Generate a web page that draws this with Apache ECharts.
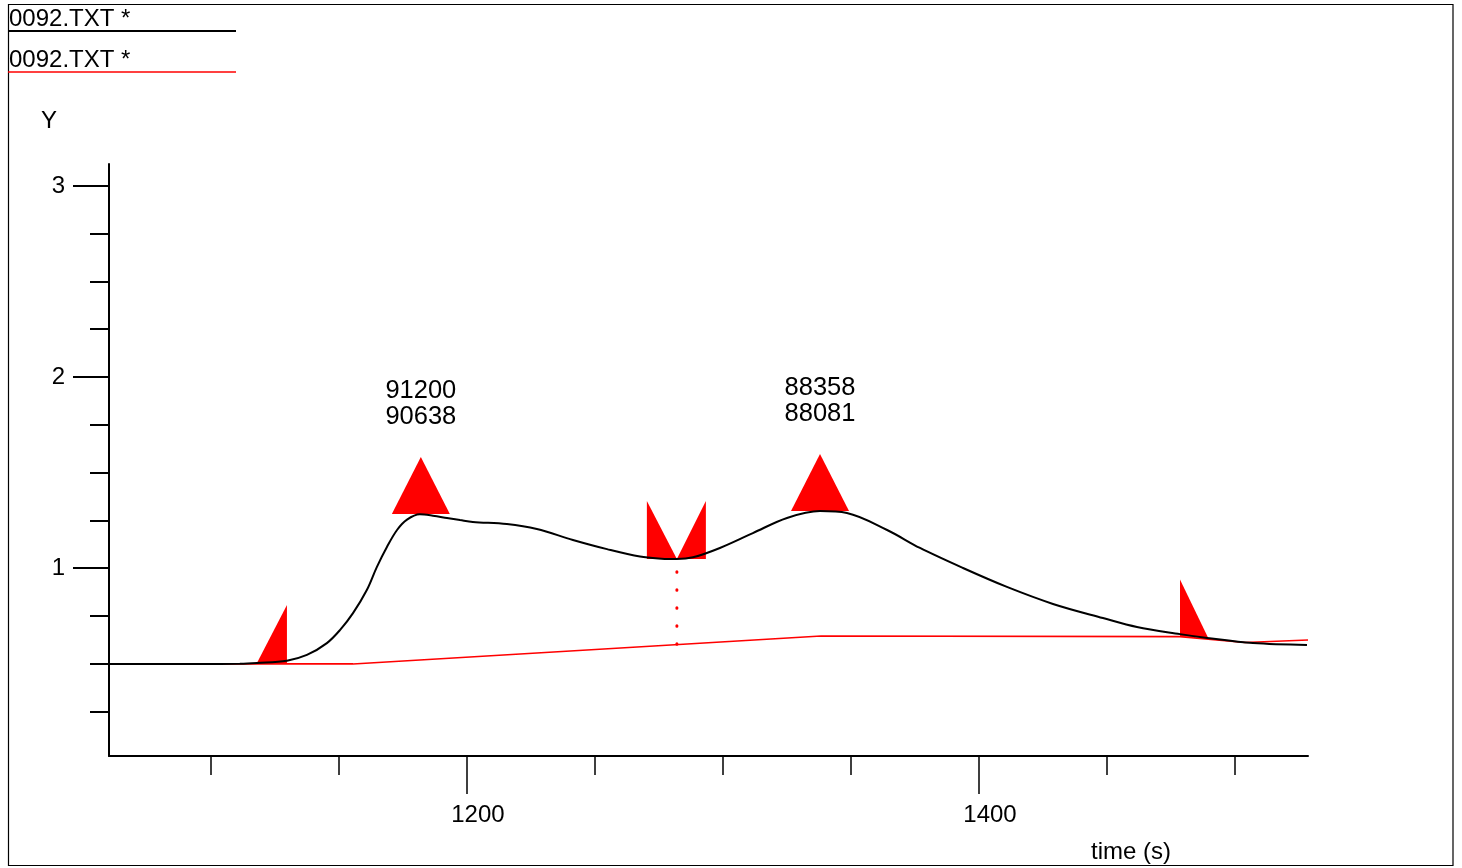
<!DOCTYPE html>
<html>
<head>
<meta charset="utf-8">
<title>0092.TXT</title>
<script src="https://cdn.jsdelivr.net/npm/echarts@6/dist/echarts.min.js"></script>
<style>
  html, body { margin: 0; padding: 0; background: #fff; }
  #chart { width: 1462px; height: 868px; }
</style>
</head>
<body>
<div id="chart"></div>
<script>
// Detector trace (time in s, signal)
const timeS = [1060.2, 1095.7, 1111.3, 1118.0, 1129.7, 1137.5, 1145.3, 1150.4, 1155.5, 1160.9,
  1164.8, 1168.75, 1172.7, 1176.6, 1181.6, 1186.7, 1192.2, 1197.3, 1202.3, 1215.6,
  1227.3, 1241.4, 1254.7, 1267.6, 1276.0, 1282.0, 1288.3, 1298.8, 1311.7, 1325.0,
  1337.9, 1348.4, 1364.1, 1376.95, 1393.75, 1410.9, 1428.9, 1448.4, 1461.7, 1478.5,
  1489.1, 1507.0, 1528.1];
const signal = [0.498, 0.498, 0.499, 0.503, 0.515, 0.545, 0.607, 0.675, 0.764, 0.885,
  1.005, 1.110, 1.199, 1.253, 1.281, 1.274, 1.262, 1.251, 1.241, 1.230,
  1.204, 1.147, 1.099, 1.060, 1.049, 1.047, 1.056, 1.105, 1.183, 1.262,
  1.298, 1.288, 1.199, 1.105, 1.000, 0.901, 0.812, 0.738, 0.691, 0.654,
  0.634, 0.607, 0.597];

// Integration baseline
const baseTime = [1060.2, 1155.5, 1338.3, 1478.5, 1489.5, 1503.9, 1528.5];
const baseLevel = [0.498, 0.498, 0.644, 0.641, 0.628, 0.610, 0.623];

// Peak table
const peakTime = [1182.0, 1337.9];
const peakTop = [1.283, 1.298];
const peakAreas = [['91200', '90638'], ['88358', '88081']];
const peakStart = [1129.7, 0.503];
const valley = [1282.0, 1.047];
const peakEnd = [1478.5, 0.641];

// Axis ticks
const xMinorTicks = [1100, 1150, 1200, 1250, 1300, 1350, 1400, 1450, 1500];
const xMajorTicks = [1200, 1400];
const yMinorTicks = [0.25, 0.5, 0.75, 1, 1.25, 1.5, 1.75, 2, 2.25, 2.5, 2.75, 3];
const yMajorTicks = [1, 2, 3];

const X_MIN = 1060.2, X_MAX = 1528.5, Y_MIN = 0.016, Y_MAX = 3.115;
const FONT = '"Liberation Sans", Arial, sans-serif';

function baselineAt(t) {
  for (let i = 0; i < baseTime.length - 1; i++) {
    if (t >= baseTime[i] && t <= baseTime[i + 1]) {
      const f = (t - baseTime[i]) / (baseTime[i + 1] - baseTime[i]);
      return baseLevel[i] + f * (baseLevel[i + 1] - baseLevel[i]);
    }
  }
  return baseLevel[baseLevel.length - 1];
}

// Marker shapes (pixel offsets from the anchor point)
const markerShapes = [
  [[-29, 0], [29, 0], [0, -57]],     // peak apex
  [[0, -58], [0, 0], [-30, 0]],      // peak start
  [[-30, -58], [-30, 0], [0, 0]],    // valley, end of first peak
  [[29, -58], [29, 0], [0, 0]],      // valley, start of second peak
  [[0, -57], [0, 0], [28, 1]]        // peak end
];

const markerData = [
  [peakTime[0], peakTop[0], 0],
  [peakTime[1], peakTop[1], 0],
  [peakStart[0], peakStart[1], 1],
  [valley[0], valley[1], 2],
  [valley[0], valley[1], 3],
  [peakEnd[0], peakEnd[1], 4]
];

const labelData = peakTime.map((t, i) => [t, peakTop[i], i]);

const chart = echarts.init(document.getElementById('chart'), null, { renderer: 'canvas' });

const axisCommon = { type: 'value', min: X_MIN, max: X_MAX, splitLine: { show: false } };
const yCommon = { type: 'value', min: Y_MIN, max: Y_MAX, splitLine: { show: false } };

chart.setOption({
  animation: false,
  backgroundColor: '#ffffff',
  grid: { left: 109, right: 154, top: 164, bottom: 112, containLabel: false },
  xAxis: [
    Object.assign({}, axisCommon, {
      position: 'bottom',
      axisLine: { show: true, onZero: false, lineStyle: { color: '#000', width: 2 } },
      axisTick: { show: true, customValues: xMinorTicks, length: 19, lineStyle: { color: '#000', width: 1.5 } },
      axisLabel: { show: false }
    }),
    Object.assign({}, axisCommon, {
      position: 'bottom',
      axisLine: { show: false, onZero: false },
      axisTick: { show: true, customValues: xMajorTicks, length: 38, lineStyle: { color: '#000', width: 1.5 } },
      axisLabel: {
        show: true, customValues: xMajorTicks, margin: 47,
        color: '#000', fontSize: 24, fontFamily: FONT,
        padding: [0, 0, 0, 22],
        formatter: v => String(v)
      }
    })
  ],
  yAxis: [
    Object.assign({}, yCommon, {
      position: 'left',
      axisLine: { show: true, onZero: false, lineStyle: { color: '#000', width: 2 } },
      axisTick: { show: true, customValues: yMinorTicks, length: 19, lineStyle: { color: '#000', width: 2 } },
      axisLabel: { show: false }
    }),
    Object.assign({}, yCommon, {
      position: 'left',
      axisLine: { show: false, onZero: false },
      axisTick: { show: true, customValues: yMajorTicks, length: 36, lineStyle: { color: '#000', width: 2 } },
      axisLabel: {
        show: true, customValues: yMajorTicks, margin: 44,
        color: '#000', fontSize: 24, fontFamily: FONT,
        formatter: v => String(v)
      }
    })
  ],
  graphic: [
    { type: 'rect', silent: true, shape: { x: 8.5, y: 4.5, width: 1444.5, height: 861 },
      style: { fill: 'none', stroke: '#000', lineWidth: 1.2 } },
    { type: 'text', left: 9, top: 7, silent: true,
      style: { text: '0092.TXT *', fill: '#000', font: '24px ' + FONT } },
    { type: 'line', silent: true, shape: { x1: 8, y1: 31, x2: 236, y2: 31 },
      style: { stroke: '#000', lineWidth: 2 } },
    { type: 'text', left: 9, top: 48, silent: true,
      style: { text: '0092.TXT *', fill: '#000', font: '24px ' + FONT } },
    { type: 'line', silent: true, shape: { x1: 8, y1: 72, x2: 236, y2: 72 },
      style: { stroke: '#ff0000', lineWidth: 1.5 } },
    { type: 'text', x: 49, y: 121, silent: true,
      style: { text: 'Y', fill: '#000', font: '24px ' + FONT, textAlign: 'center', textVerticalAlign: 'middle' } },
    { type: 'text', x: 1131, y: 852, silent: true,
      style: { text: 'time (s)', fill: '#000', font: '24px ' + FONT, textAlign: 'center', textVerticalAlign: 'middle' } }
  ],
  series: [
    {
      name: 'peak markers',
      type: 'custom',
      xAxisIndex: 0, yAxisIndex: 0,
      z: 2,
      data: markerData,
      renderItem: function (params, api) {
        const p = api.coord([api.value(0), api.value(1)]);
        const shape = markerShapes[api.value(2)];
        return {
          type: 'polygon',
          shape: { points: shape.map(o => [p[0] + o[0], p[1] + o[1]]) },
          style: { fill: '#ff0000', stroke: 'none' }
        };
      }
    },
    {
      name: 'peak areas',
      type: 'custom',
      xAxisIndex: 0, yAxisIndex: 0,
      z: 5,
      data: labelData,
      renderItem: function (params, api) {
        const p = api.coord([api.value(0), api.value(1)]);
        const lines = peakAreas[api.value(2)];
        return {
          type: 'text',
          style: {
            x: p[0], y: p[1] - 84,
            text: lines.join('\n'),
            fill: '#000', font: '25.5px ' + FONT, lineHeight: 26,
            textAlign: 'center', textVerticalAlign: 'bottom'
          }
        };
      }
    },
    {
      name: 'baseline',
      type: 'line',
      xAxisIndex: 0, yAxisIndex: 0,
      z: 3,
      symbol: 'none',
      data: baseTime.map((t, i) => [t, baseLevel[i]]),
      lineStyle: { color: '#ff0000', width: 1.6 }
    },
    {
      name: 'drop line',
      type: 'line',
      xAxisIndex: 0, yAxisIndex: 0,
      z: 3,
      symbol: 'none',
      data: [[valley[0], valley[1]], [valley[0], baselineAt(valley[0])]],
      lineStyle: { color: '#ff0000', width: 3, type: [0.5, 17.5], dashOffset: -12.75, cap: 'round' }
    },
    {
      name: '0092.TXT *',
      type: 'line',
      xAxisIndex: 0, yAxisIndex: 0,
      z: 4,
      symbol: 'none',
      smooth: 0.35,
      data: timeS.map((t, i) => [t, signal[i]]),
      lineStyle: { color: '#000', width: 2 }
    }
  ]
});
</script>
</body>
</html>
